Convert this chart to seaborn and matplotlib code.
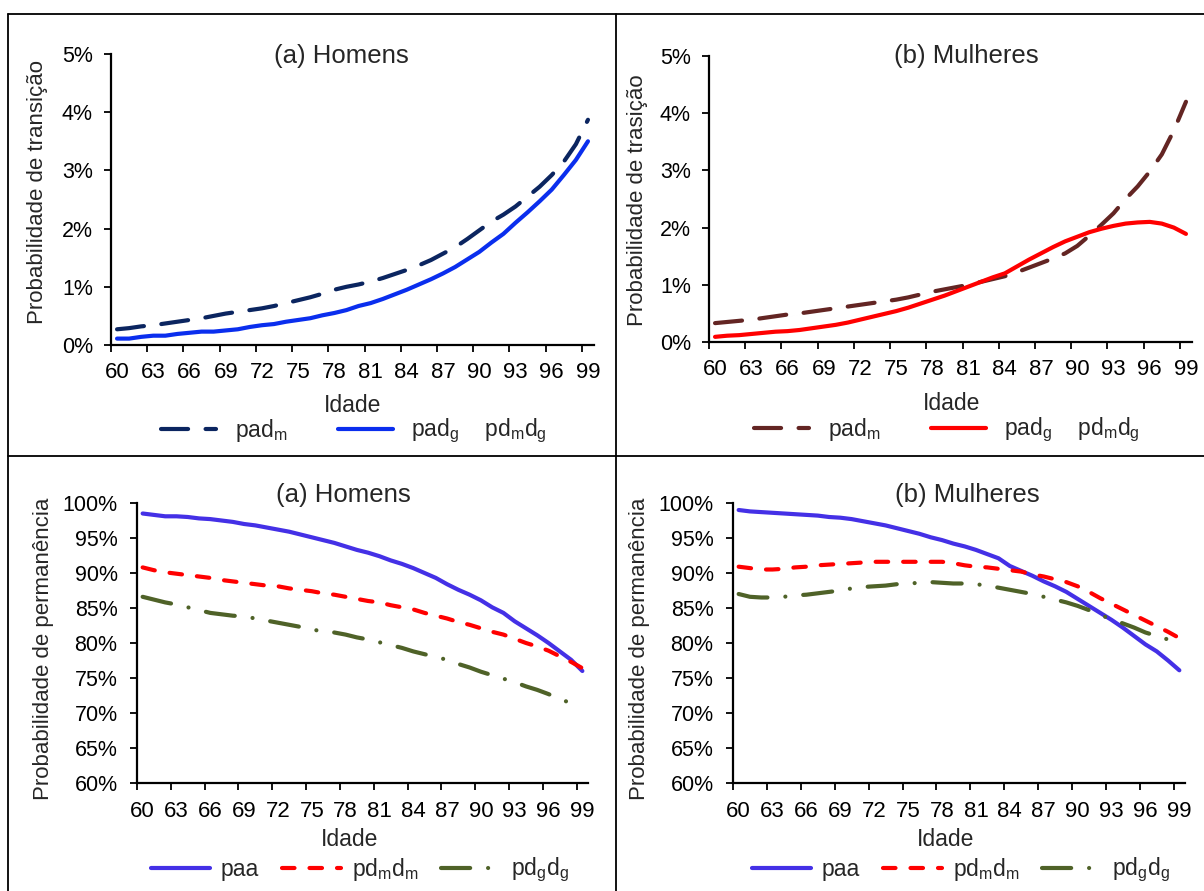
import numpy as np
import pandas as pd
import matplotlib
matplotlib.use("Agg")
import matplotlib.pyplot as plt
import seaborn as sns
from matplotlib.lines import Line2D
from matplotlib.ticker import FixedLocator, FixedFormatter, NullFormatter, FuncFormatter

# ---------------- data ----------------
ages = list(range(60, 100))
tick_ages = list(range(60, 100, 3))
tick_labels = [str(a) for a in tick_ages]

# transition probabilities (%) - men
pad_m_h = [0.27, 0.29, 0.32, 0.34, 0.37, 0.40, 0.43, 0.46, 0.50, 0.54,
           0.57, 0.60, 0.63, 0.67, 0.72, 0.77, 0.82, 0.88, 0.95, 1.00,
           1.04, 1.09, 1.15, 1.22, 1.29, 1.37, 1.46, 1.57, 1.68, 1.82,
           1.97, 2.12, 2.24, 2.38, 2.55, 2.72, 2.92, 3.15, 3.45, 3.87]
pad_g_h = [0.11, 0.11, 0.14, 0.16, 0.16, 0.19, 0.21, 0.23, 0.23, 0.25,
           0.27, 0.31, 0.34, 0.36, 0.40, 0.43, 0.46, 0.51, 0.55, 0.60,
           0.67, 0.72, 0.79, 0.87, 0.95, 1.04, 1.13, 1.23, 1.34, 1.47,
           1.60, 1.76, 1.91, 2.10, 2.28, 2.47, 2.67, 2.92, 3.18, 3.50]
# transition probabilities (%) - women
pad_m_m = [0.33, 0.35, 0.37, 0.39, 0.42, 0.45, 0.48, 0.50, 0.53, 0.56,
           0.59, 0.62, 0.65, 0.68, 0.71, 0.74, 0.78, 0.83, 0.88, 0.92,
           0.96, 1.00, 1.05, 1.10, 1.15, 1.22, 1.30, 1.38, 1.46, 1.55,
           1.68, 1.86, 2.05, 2.25, 2.50, 2.72, 2.98, 3.28, 3.70, 4.20]
pad_g_m = [0.09, 0.11, 0.12, 0.14, 0.16, 0.18, 0.19, 0.21, 0.24, 0.27,
           0.30, 0.34, 0.39, 0.44, 0.49, 0.54, 0.60, 0.67, 0.74, 0.81,
           0.89, 0.97, 1.05, 1.13, 1.20, 1.32, 1.44, 1.55, 1.66, 1.76,
           1.84, 1.92, 1.98, 2.03, 2.07, 2.09, 2.10, 2.07, 2.00, 1.89]

# permanence probabilities (%) - men
paa_h = [98.5, 98.3, 98.1, 98.1, 98.0, 97.8, 97.7, 97.5, 97.3, 97.0,
         96.8, 96.5, 96.2, 95.9, 95.5, 95.1, 94.7, 94.3, 93.8, 93.3,
         92.9, 92.4, 91.8, 91.3, 90.7, 90.0, 89.3, 88.4, 87.6, 86.9,
         86.1, 85.1, 84.3, 83.1, 82.1, 81.1, 80.0, 78.8, 77.6, 76.0]
pdmdm_h = [90.8, 90.4, 90.1, 89.9, 89.7, 89.5, 89.3, 89.0, 88.8, 88.6,
           88.4, 88.2, 88.1, 87.8, 87.6, 87.4, 87.1, 86.9, 86.6, 86.3,
           86.0, 85.8, 85.4, 85.1, 84.8, 84.3, 83.9, 83.5, 83.0, 82.6,
           82.1, 81.6, 81.2, 80.6, 80.0, 79.5, 78.9, 78.1, 77.3, 76.4]
pdgdg_h = [86.6, 86.2, 85.8, 85.5, 85.1, 84.7, 84.3, 84.1, 83.9, 83.8,
           83.5, 83.2, 82.9, 82.6, 82.3, 81.9, 81.7, 81.5, 81.2, 80.8,
           80.5, 80.1, 79.7, 79.3, 78.8, 78.4, 78.0, 77.6, 77.0, 76.5,
           75.9, 75.4, 74.9, 74.4, 73.8, 73.3, 72.7, 72.0, 71.4, 70.9]
# permanence probabilities (%) - women
paa_m = [99.0, 98.8, 98.7, 98.6, 98.5, 98.4, 98.3, 98.2, 98.0, 97.9,
         97.7, 97.4, 97.1, 96.8, 96.4, 96.0, 95.6, 95.1, 94.7, 94.2,
         93.8, 93.3, 92.7, 92.1, 91.0, 90.3, 89.6, 88.8, 88.1, 87.3,
         86.3, 85.3, 84.3, 83.3, 82.2, 81.0, 79.8, 78.8, 77.5, 76.1]
pdmdm_m = [90.9, 90.7, 90.5, 90.5, 90.6, 90.8, 90.9, 91.1, 91.2, 91.3,
           91.4, 91.5, 91.6, 91.6, 91.6, 91.6, 91.6, 91.6, 91.6, 91.4,
           91.1, 90.9, 90.8, 90.6, 90.4, 90.2, 89.8, 89.5, 89.1, 88.7,
           88.1, 87.3, 86.4, 85.6, 84.8, 84.0, 83.2, 82.4, 81.6, 80.7]
pdgdg_m = [87.0, 86.6, 86.5, 86.5, 86.6, 86.8, 86.9, 87.1, 87.3, 87.5,
           87.8, 88.0, 88.1, 88.2, 88.4, 88.5, 88.6, 88.7, 88.6, 88.5,
           88.5, 88.4, 88.2, 87.9, 87.6, 87.3, 87.0, 86.6, 86.2, 85.8,
           85.3, 84.7, 84.0, 83.4, 82.8, 82.2, 81.5, 81.0, 80.5, 79.9]

# ---------------- style ----------------
sns.set_style("white")
plt.rcParams["font.family"] = ["Liberation Sans", "DejaVu Sans"]
plt.rcParams["mathtext.fontset"] = "custom"
plt.rcParams["mathtext.rm"] = "Liberation Sans"
plt.rcParams["mathtext.it"] = "Liberation Sans"
plt.rcParams["mathtext.default"] = "regular"

W, H = 1204, 891
fig = plt.figure(figsize=(W / 100, H / 100), dpi=100)
fig.patch.set_facecolor("white")


def fx(x):
    return x / W


def fy(y):
    return 1 - y / H


def add_ax(l, r, t, b):
    return fig.add_axes([l / W, 1 - b / H, (r - l) / W, (b - t) / H])


LW = 3.0
LONG = (0, (6.5, 4.2))
SHORT = (0, (3.0, 3.6))
DASHDOT = (0, (7.0, 4.3, 0.01, 4.3))


def draw(ax, y, color, ls, label):
    df = pd.DataFrame({"Idade": ages, "v": y})
    sns.lineplot(data=df, x="Idade", y="v", ax=ax, color=color, linewidth=LW, label=label, legend=False)
    ln = ax.lines[-1]
    ln.set_linestyle(ls)
    ln.set_dash_capstyle("round")
    ln.set_solid_capstyle("round")
    return ln


def style_ax(ax, ymin, ymax, ystep, ylab_pad, xlab_pad):
    ax.set_xlim(59.5, 99.5)
    ax.set_ylim(ymin, ymax)
    sns.despine(ax=ax)
    for s in ["left", "bottom"]:
        ax.spines[s].set_linewidth(1.6)
        ax.spines[s].set_color("black")
    ax.xaxis.set_major_locator(FixedLocator(np.arange(59.5, 99.0, 3)))
    ax.xaxis.set_major_formatter(NullFormatter())
    ax.xaxis.set_minor_locator(FixedLocator(tick_ages))
    ax.xaxis.set_minor_formatter(FixedFormatter(tick_labels))
    ax.tick_params(axis="x", which="major", bottom=True, length=5, width=1.3,
                   direction="out", color="black")
    ax.tick_params(axis="x", which="minor", bottom=True, length=0, pad=xlab_pad,
                   labelsize=16, labelcolor="black")
    ax.yaxis.set_major_locator(FixedLocator(np.arange(ymin, ymax + 0.001, ystep)))
    ax.yaxis.set_major_formatter(FuncFormatter(lambda v, p: f"{int(round(v))}%"))
    ax.tick_params(axis="y", left=True, length=5, width=1.3, direction="out",
                   color="black", pad=ylab_pad, labelsize=15.5, labelcolor="black")
    ax.set_xlabel("")
    ax.set_ylabel("")
    ax.grid(False)


def legend(ax, handles, labels, cx, cy, hl, htp, cs):
    ax.legend(handles, labels, ncol=len(handles), loc="center",
              bbox_to_anchor=(fx(cx), fy(cy)), bbox_transform=fig.transFigure,
              frameon=False, fontsize=16.5, handlelength=hl, handletextpad=htp,
              columnspacing=cs, borderpad=0, borderaxespad=0)


# ---- top-left: transition, men ----
ax1 = add_ax(111, 594, 54, 345)
l1 = draw(ax1, pad_m_h, "#0B2560", LONG, "pad_m")
l2 = draw(ax1, pad_g_h, "#0A2EEE", "-", "pad_g")
style_ax(ax1, 0, 5, 1, 8, 12)
legend(ax1, [l1, l2], ["pad$_m$", "pad$_g$    pd$_m$d$_g$"], 354, 431, 2.4, 0.8, 2.2)

# ---- top-right: transition, women ----
ax2 = add_ax(709, 1192, 56, 342)
l1 = draw(ax2, pad_m_m, "#632523", LONG, "pad_m")
l2 = draw(ax2, pad_g_m, "#FF0000", "-", "pad_g")
style_ax(ax2, 0, 5, 1, 8, 12)
legend(ax2, [l1, l2], ["pad$_m$", "pad$_g$    pd$_m$d$_g$"], 947, 430, 2.4, 0.8, 2.2)

# ---- bottom-left: permanence, men ----
ax3 = add_ax(137, 588, 503, 783)
l1 = draw(ax3, paa_h, "#4430E6", "-", "paa")
l2 = draw(ax3, pdmdm_h, "#FF0000", SHORT, "pdmdm")
l3 = draw(ax3, pdgdg_h, "#4F6228", DASHDOT, "pdgdg")
style_ax(ax3, 60, 100, 5, 9, 13)
legend(ax3, [l1, l2, l3], ["paa", "pd$_m$d$_m$", "pd$_g$d$_g$"], 360, 870, 2.6, 0.45, 1.0)

# ---- bottom-right: permanence, women ----
ax4 = add_ax(733, 1185, 503, 783)
l1 = draw(ax4, paa_m, "#4430E6", "-", "paa")
l2 = draw(ax4, pdmdm_m, "#FF0000", SHORT, "pdmdm")
l3 = draw(ax4, pdgdg_m, "#4F6228", DASHDOT, "pdgdg")
style_ax(ax4, 60, 100, 5, 9, 13)
legend(ax4, [l1, l2, l3], ["paa", "pd$_m$d$_m$", "pd$_g$d$_g$"], 961, 870, 2.6, 0.45, 1.0)

# ---- titles and axis labels ----
fig.text(fx(341), fy(56), "(a) Homens", ha="center", va="center", fontsize=18.5)
fig.text(fx(966), fy(56), "(b) Mulheres", ha="center", va="center", fontsize=18.5)
fig.text(fx(343), fy(495), "(a) Homens", ha="center", va="center", fontsize=18.5)
fig.text(fx(967), fy(495), "(b) Mulheres", ha="center", va="center", fontsize=18.5)

fig.text(fx(38), fy(192), "Probabilidade de transição", rotation=90, ha="center", va="center", fontsize=16)
fig.text(fx(638), fy(200), "Probabilidade de trasição", rotation=90, ha="center", va="center", fontsize=16)
fig.text(fx(44), fy(649), "Probabilidade de permanência", rotation=90, ha="center", va="center", fontsize=16)
fig.text(fx(640), fy(649), "Probabilidade de permanência", rotation=90, ha="center", va="center", fontsize=16)

for (x, y) in [(353, 405), (952, 403), (350, 840), (946, 839)]:
    fig.text(fx(x), fy(y), "Idade", ha="center", va="center", fontsize=16.5)

# ---- panel frame lines ----
frame_kw = dict(transform=fig.transFigure, color="black", linewidth=1.3)
fig.add_artist(Line2D([fx(8), 1], [fy(14), fy(14)], **frame_kw))
fig.add_artist(Line2D([fx(8), fx(8)], [fy(14), 0], **frame_kw))
fig.add_artist(Line2D([fx(616), fx(616)], [fy(14), 0], **frame_kw))
fig.add_artist(Line2D([fx(8), 1], [fy(456), fy(456)], **frame_kw))

fig.savefig("out.png", dpi=100, facecolor="white")
